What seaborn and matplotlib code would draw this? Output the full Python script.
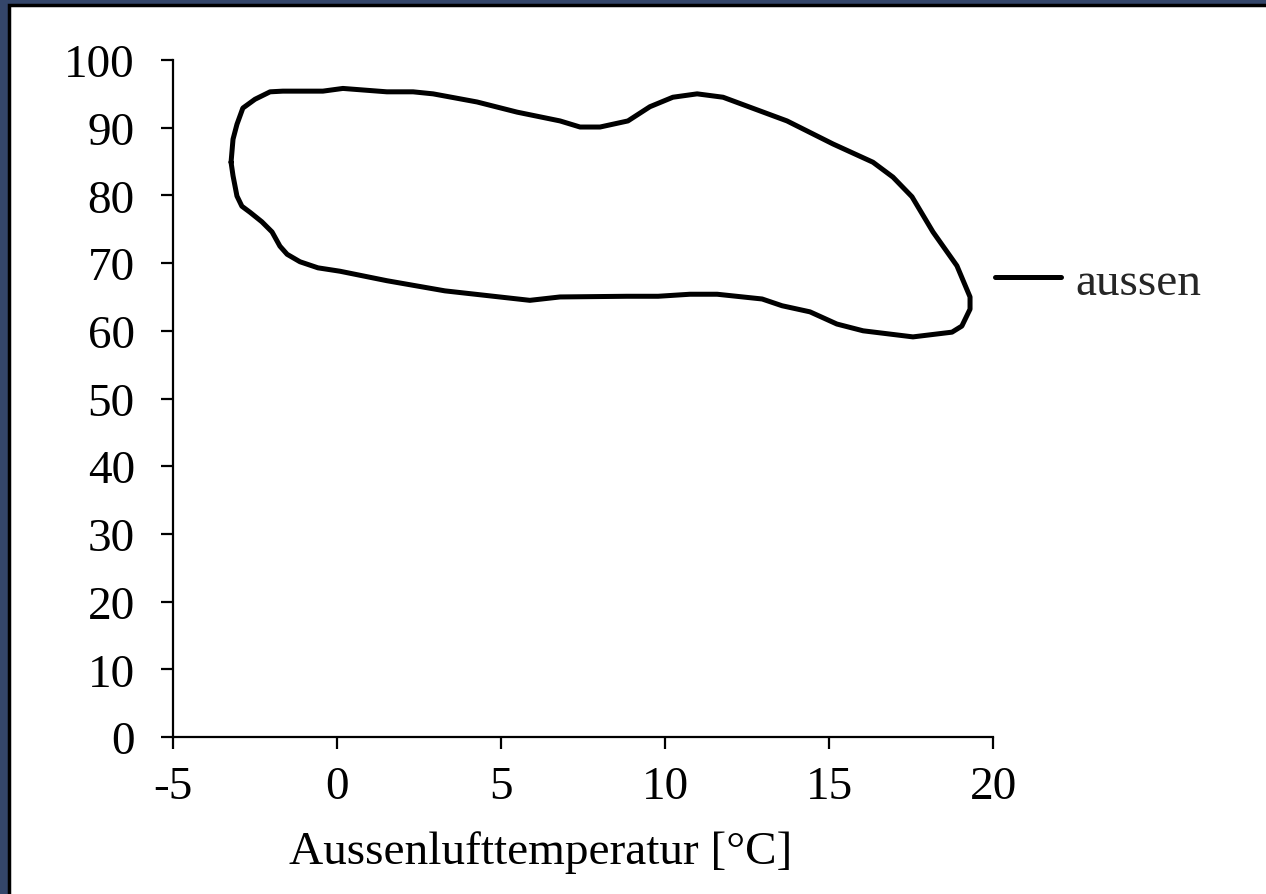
import numpy as np
import pandas as pd
import seaborn as sns
import matplotlib.pyplot as plt
from matplotlib.patches import Rectangle

# closed loop: outside air temperature vs. relative humidity
temp = [-3.23, -3.17, -3.05, -2.87, -2.50, -2.04, -1.65, -0.43, 0.18, 1.52,
        2.32, 2.93, 4.27, 5.49, 6.80, 7.41, 8.02, 8.87, 9.54, 10.24,
        10.98, 11.77, 13.72, 15.12, 16.34, 16.95, 17.53, 18.17, 18.90, 19.30,
        19.30, 19.05, 18.75, 17.56, 16.04, 15.24, 14.42, 13.57, 12.96, 11.59,
        10.76, 9.79, 8.84, 6.80, 5.88, 3.29, 1.52, 0.09, -0.58, -1.13,
        -1.52, -1.74, -1.98, -2.29, -2.65, -2.90, -3.05, -3.17, -3.23]
humid = [84.9, 88.3, 90.5, 92.9, 94.2, 95.3, 95.4, 95.4, 95.8, 95.3,
         95.3, 95.0, 93.8, 92.3, 91.0, 90.1, 90.1, 91.0, 93.1, 94.5,
         95.0, 94.5, 91.0, 87.6, 84.9, 82.7, 79.8, 74.6, 69.6, 65.0,
         63.2, 60.7, 59.8, 59.1, 60.0, 61.0, 62.8, 63.7, 64.7, 65.4,
         65.4, 65.1, 65.1, 65.0, 64.5, 65.9, 67.4, 68.8, 69.3, 70.2,
         71.3, 72.5, 74.6, 76.1, 77.5, 78.4, 79.9, 82.9, 84.9]

x_ticks = [-5, 0, 5, 10, 15, 20]
y_ticks = [0, 10, 20, 30, 40, 50, 60, 70, 80, 90, 100]

df = pd.DataFrame({'T': temp, 'RH': humid, 'serie': 'aussen'})

sns.set_style('ticks')
plt.rcParams['font.family'] = ['Liberation Serif', 'DejaVu Serif']
plt.rcParams['axes.unicode_minus'] = False

W, H = 1266, 895
fig = plt.figure(figsize=(W / 100, H / 100), dpi=100)
fig.patch.set_facecolor('#34466a')
# white panel with thin black frame (only top/left edges inside the picture)
fig.patches.append(Rectangle((9 / W, -0.1), 1.2, 1.1 - 6 / H,
                             transform=fig.transFigure, facecolor='white',
                             edgecolor='black', linewidth=2.5, zorder=-5))

ax = fig.add_axes([173 / W, 1 - 738 / H, 820 / W, 677 / H])
ax.set_facecolor('none')

sns.lineplot(data=df, x='T', y='RH', hue='serie', sort=False, estimator=None,
             palette=['black'], linewidth=3.6, ax=ax)

ax.set_xlim(-5, 20)
ax.set_ylim(0, 100)
ax.set_xticks(x_ticks)
ax.set_yticks(y_ticks)
ax.set_xticklabels([str(v) for v in x_ticks])
ax.set_yticklabels([str(v) for v in y_ticks])
sns.despine(ax=ax)
for s in ['left', 'bottom']:
    ax.spines[s].set_linewidth(1.6)
    ax.spines[s].set_color('black')
ax.tick_params(axis='both', labelsize=34, length=8.5, width=1.6, colors='black',
               direction='out')
ax.tick_params(axis='x', pad=12)
ax.tick_params(axis='y', pad=19)

ax.set_xlabel('Aussenlufttemperatur [°C]', fontsize=34, color='black')
ax.set_ylabel('')
ax.xaxis.set_label_coords((541 - 173) / 820, -0.138)

ax.legend(title=None, loc='center left', bbox_to_anchor=(1.002, (738 - 283) / 677),
          frameon=False, fontsize=34, handlelength=1.4, handletextpad=0.3,
          borderpad=0, borderaxespad=0)

plt.savefig('out.png', dpi=100, facecolor=fig.get_facecolor())
